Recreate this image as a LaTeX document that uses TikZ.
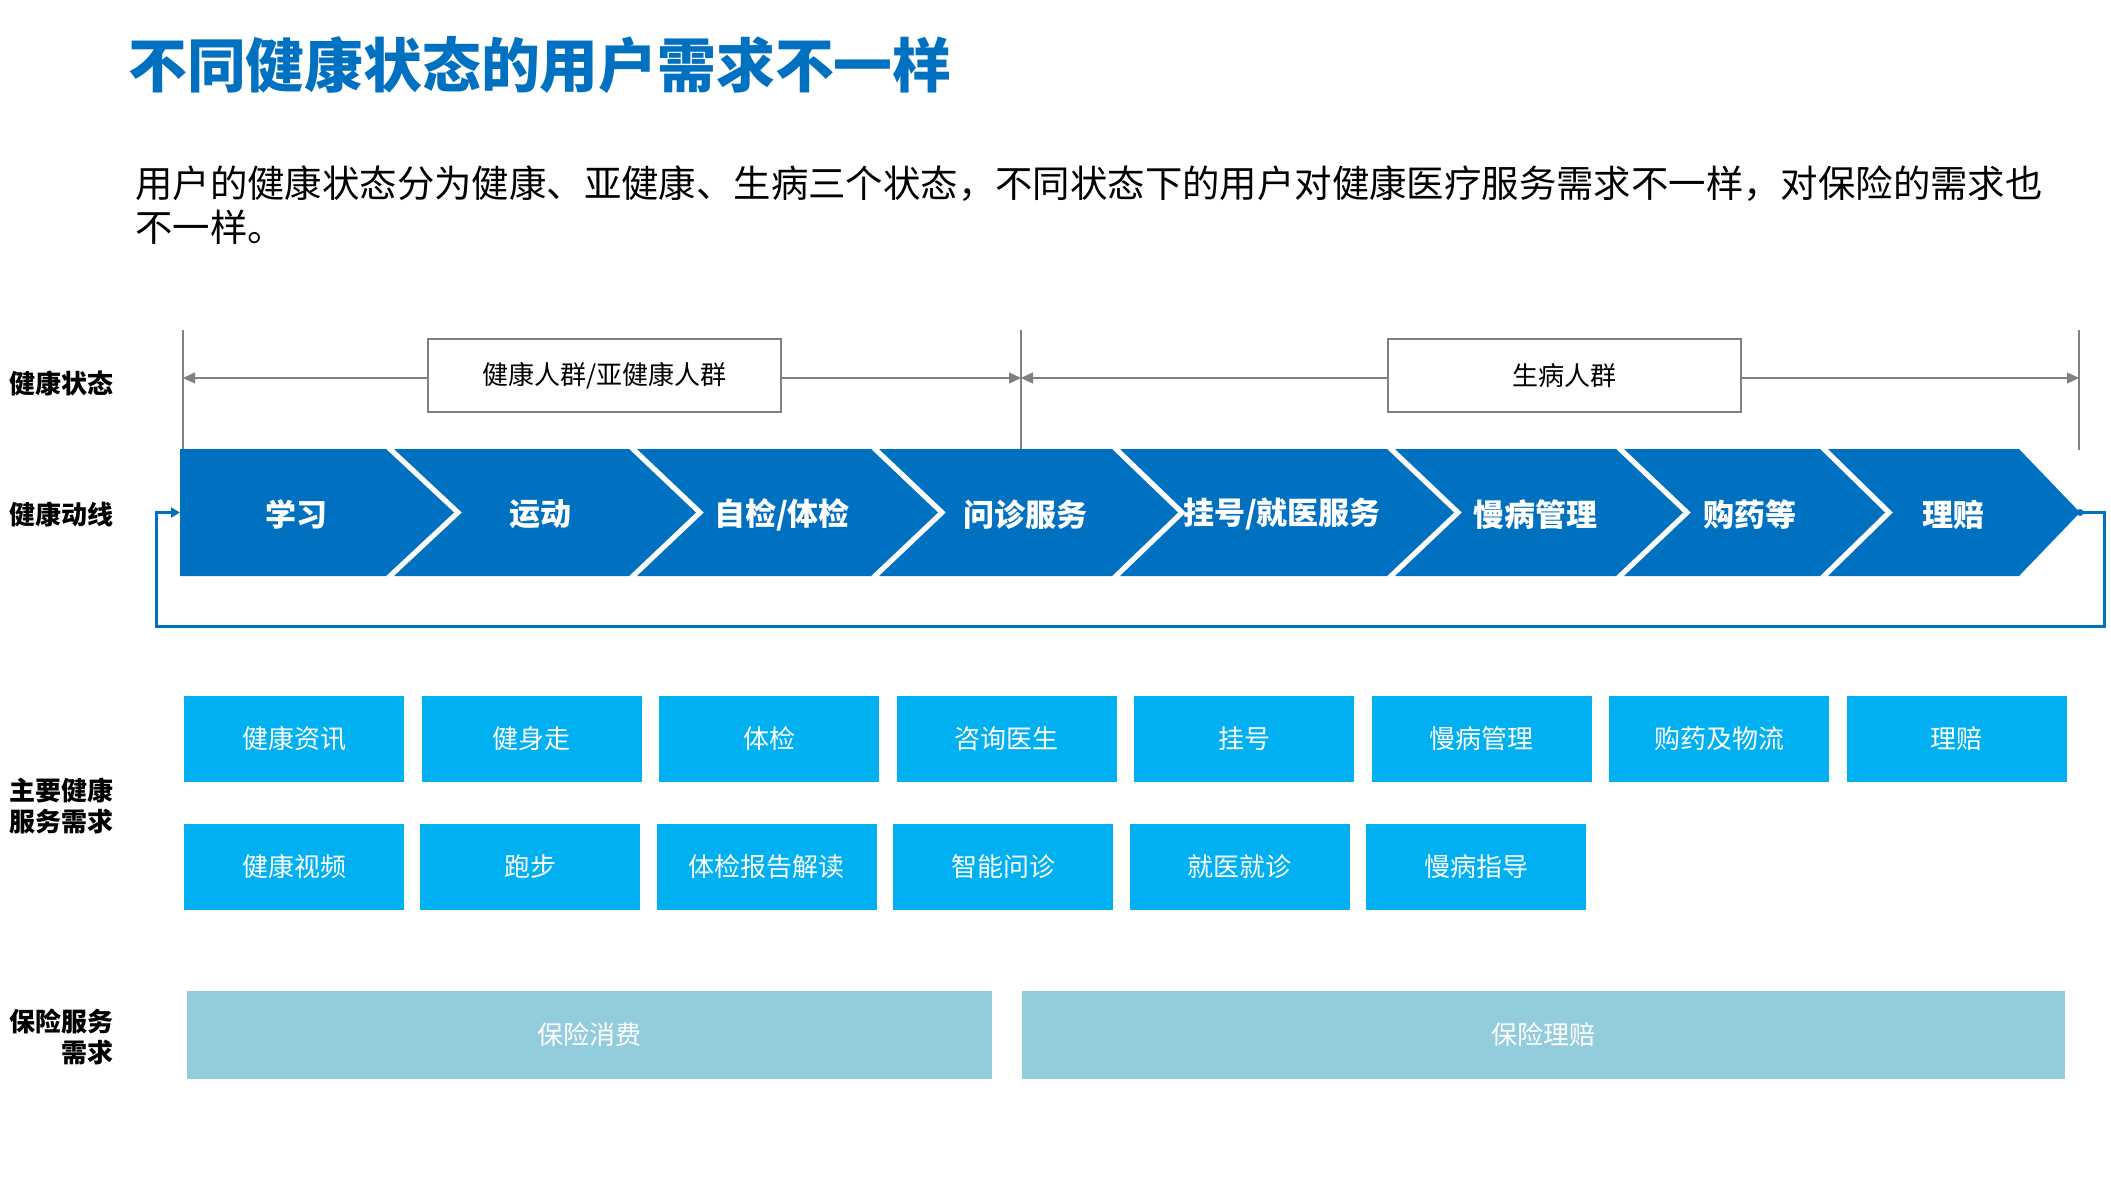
\documentclass[tikz,border=0pt]{standalone}
\usepackage{fontspec}
\setmainfont{Noto Sans CJK SC}
\usetikzlibrary{arrows.meta}
\definecolor{dblue}{HTML}{0070C0}
\definecolor{sblue}{HTML}{00B0F0}
\definecolor{lblue}{HTML}{93CDDD}
\definecolor{lgray}{HTML}{808080}
\tikzset{
  chev/.style={fill=dblue,draw=none},
  chevtxt/.style={text=white,font=\bfseries\fontsize{31}{36}\selectfont,inner sep=0pt,yshift=-1.5pt},
  sidelabel/.style={font=\bfseries\fontsize{26}{31}\selectfont,align=right,anchor=east,inner sep=0pt,yshift=-1.5pt},
  sbox/.style={fill=sblue,text=white,minimum width=220pt,minimum height=86pt,inner sep=0pt,font=\fontsize{26}{30}\selectfont},
  ibox/.style={fill=lblue,text=white,minimum height=88pt,inner sep=0pt,font=\fontsize{26}{30}\selectfont},
  statebox/.style={draw=lgray,line width=2pt,fill=white,minimum width=353pt,minimum height=73pt,inner sep=0pt,font=\fontsize{26}{30}\selectfont},
  stateline/.style={draw=lgray,line width=1.3pt},
  statearrow/.style={stateline,-{Triangle[length=12pt,width=11pt]}},
  loopline/.style={draw=dblue,line width=3pt,-{Triangle[length=9pt,width=10pt]}}
}
\begin{document}
\begin{tikzpicture}[x=1pt,y=-1pt]
\useasboundingbox[fill=white] (0,0) rectangle (2111,1187);
% title
\node[anchor=west,inner sep=0pt,text=dblue,font=\bfseries\fontsize{58.8}{64}\selectfont] (title) at (128,65) {不同健康状态的用户需求不一样};
\node[anchor=west,inner sep=0pt,align=left,font=\fontsize{37.4}{44}\selectfont] (sub) at (135,205) {用户的健康状态分为健康、亚健康、生病三个状态，不同状态下的用户对健康医疗服务需求不一样，对保险的需求也\\不一样。};
% side labels
\node[sidelabel] (l1) at (114,382) {健康状态};
\node[sidelabel] (l2) at (114,513) {健康动线};
\node[sidelabel] (l3) at (114,804) {主要健康\\服务需求};
\node[sidelabel] (l4) at (114,1035) {保险服务\\需求};
% state lines
\coordinate (vA) at (183,378);
\coordinate (vB) at (1021,378);
\coordinate (vC) at (2079,378);
\draw[stateline] (183,330) -- (183,450);
\draw[stateline] (1021,330) -- (1021,450);
\draw[stateline] (2079,330) -- (2079,450);
\node[statebox] (s1) at (604.5,375.5) {健康人群/亚健康人群};
\node[statebox] (s2) at (1564.5,375.5) {生病人群};
\draw[statearrow] (s1.west |- vA) -- (vA);
\draw[statearrow] (s1.east |- vB) -- (vB);
\draw[statearrow] (s2.west |- vB) -- (vB);
\draw[statearrow] (s2.east |- vC) -- (vC);
% chevrons
\path[chev] (180,449) -- (386,449) -- (454,512.5) -- (386,576) -- (180,576) -- cycle;
\path[chev] (394,449) -- (629,449) -- (696,512.5) -- (629,576) -- (394,576) -- (462,512.5) -- cycle;
\path[chev] (637,449) -- (871,449) -- (938,512.5) -- (871,576) -- (637,576) -- (704,512.5) -- cycle;
\path[chev] (879,449) -- (1112,449) -- (1178,512.5) -- (1112,576) -- (879,576) -- (946,512.5) -- cycle;
\path[chev] (1120,449) -- (1387,449) -- (1454,512.5) -- (1387,576) -- (1120,576) -- (1186,512.5) -- cycle;
\path[chev] (1395,449) -- (1616,449) -- (1683,512.5) -- (1616,576) -- (1395,576) -- (1462,512.5) -- cycle;
\path[chev] (1624,449) -- (1820,449) -- (1885,512.5) -- (1820,576) -- (1624,576) -- (1691,512.5) -- cycle;
\path[chev] (1828,449) -- (2019,449) -- (2080,512.5) -- (2019,576) -- (1828,576) -- (1893,512.5) -- cycle;
\node[chevtxt] (c1) at (296,513) {学习};
\node[chevtxt] (c2) at (540,513) {运动};
\node[chevtxt] (c3) at (782,513) {自检/体检};
\node[chevtxt] (c4) at (1025,513) {问诊服务};
\node[chevtxt] (c5) at (1282,513) {挂号/就医服务};
\node[chevtxt] (c6) at (1535,513) {慢病管理};
\node[chevtxt] (c7) at (1750,513) {购药等};
\node[chevtxt] (c8) at (1953,513) {理赔};
% loop
\coordinate (tipR) at (2080,512.5);
\coordinate (bandW) at (180,512.5);
\fill[dblue] (tipR) circle (3.5pt);
\draw[loopline] (tipR) -- (2104,512.5) -- (2104,626) -- (156,626) -- (156,512.5) -- (bandW);
% service boxes row 1
\node[sbox] (a1) at (294,739) {健康资讯};
\node[sbox] (a2) at (531.5,739) {健身走};
\node[sbox] (a3) at (769,739) {体检};
\node[sbox] (a4) at (1006.5,739) {咨询医生};
\node[sbox] (a5) at (1244,739) {挂号};
\node[sbox] (a6) at (1481.5,739) {慢病管理};
\node[sbox] (a7) at (1719,739) {购药及物流};
\node[sbox] (a8) at (1956.5,739) {理赔};
% row 2
\node[sbox] (b1) at (294,867) {健康视频};
\node[sbox] (b2) at (530.4,867) {跑步};
\node[sbox] (b3) at (766.8,867) {体检报告解读};
\node[sbox] (b4) at (1003.2,867) {智能问诊};
\node[sbox] (b5) at (1239.6,867) {就医就诊};
\node[sbox] (b6) at (1476,867) {慢病指导};
% insurance
\node[ibox,minimum width=805pt] (i1) at (589.5,1035) {保险消费};
\node[ibox,minimum width=1043pt] (i2) at (1543.5,1035) {保险理赔};
\end{tikzpicture}
\end{document}
